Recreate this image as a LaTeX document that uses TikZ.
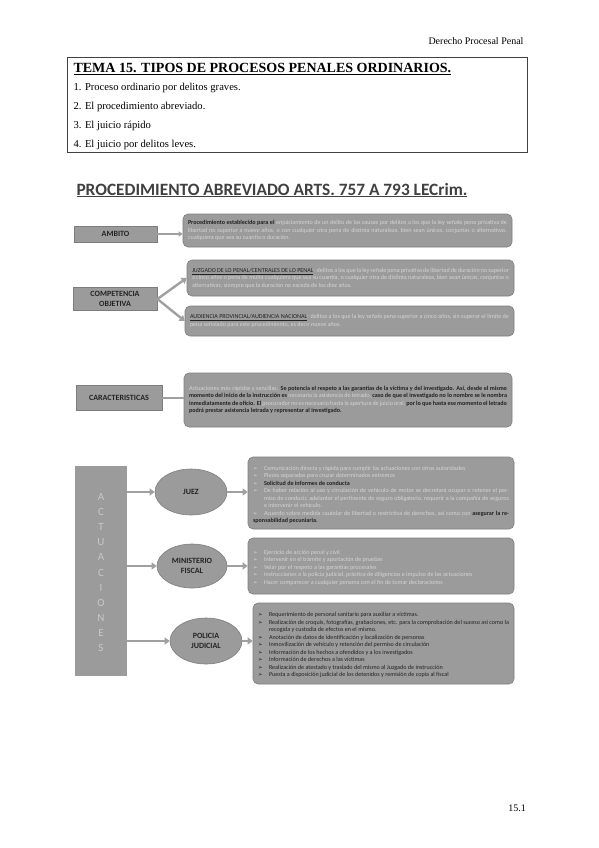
\documentclass[tikz,border=0pt]{standalone}
\usepackage{fontspec}
\setmainfont{Liberation Serif}
\newfontfamily\calib{Carlito}
\newfontfamily\dejavu{DejaVu Sans}
\usetikzlibrary{positioning,shapes.geometric,arrows.meta}

\definecolor{boxgray}{RGB}{155,155,155}
\definecolor{edgegray}{RGB}{125,125,125}
\definecolor{arrowgray}{RGB}{160,160,160}
\definecolor{lighttxt}{RGB}{212,212,212}
\definecolor{darktxt}{RGB}{35,35,35}
\definecolor{lettergray}{RGB}{200,200,200}
\definecolor{titlegray}{RGB}{64,64,64}

\newcommand{\labelfont}{\calib\bfseries\fontsize{8}{9.4}\selectfont}
\newcommand{\boxfont}{\calib\fontsize{6.1}{7.5}\selectfont}
\newcommand{\bul}{{\dejavu\fontsize{5.5}{6}\selectfont ➢}}
\newcommand{\itm}[1]{\par\noindent\hangindent=11pt\hangafter=1\makebox[11pt][l]{\bul}#1}
\newcommand{\dk}[1]{\textcolor{darktxt}{\bfseries #1}}

\begin{document}
\begin{tikzpicture}[x=1pt,y=-1pt,
  labelbox/.style={draw=edgegray, fill=boxgray, line width=0.8pt, font=\labelfont, text=darktxt, align=center, inner sep=1pt},
  infobox/.style={draw=edgegray, fill=boxgray, line width=0.6pt, rounded corners=5pt, font=\boxfont, text=lighttxt, align=justify, inner xsep=5pt, inner ysep=2pt},
  ovalbox/.style={ellipse, draw=edgegray, fill=boxgray, line width=0.6pt, font=\labelfont, text=darktxt, align=center, inner sep=0pt},
  conn/.style={draw=arrowgray, line width=2.4pt, -{Triangle[length=5pt,width=7pt]}},
  thinconn/.style={draw=arrowgray, line width=1.2pt, -{Triangle[length=4pt,width=5pt]}}
]
\useasboundingbox (0,0) rectangle (599,848);

%draw page header
\node[anchor=east, font=\fontsize{10}{11}\selectfont] (hdr) at (527,41) {Derecho Procesal Penal};
\node[draw=titlegray, line width=0.9pt, minimum width=460, minimum height=95, anchor=north west] (tema) at (67,57) {};
\node[anchor=west, font=\bfseries\fontsize{14}{15}\selectfont] (temat) at (70,69) {\underline{TEMA 15. TIPOS DE PROCESOS PENALES ORDINARIOS.}};
\node[anchor=west, font=\fontsize{10.6}{12}\selectfont] (t1) at (70,88) {1. Proceso ordinario por delitos graves.};
\node[anchor=west, font=\fontsize{10.6}{12}\selectfont] (t2) at (70,107) {2. El procedimiento abreviado.};
\node[anchor=west, font=\fontsize{10.6}{12}\selectfont] (t3) at (70,126) {3. El juicio rápido};
\node[anchor=west, font=\fontsize{10.6}{12}\selectfont] (t4) at (70,145) {4. El juicio por delitos leves.};

%draw main title
\node[anchor=west, font=\calib\bfseries\fontsize{17.3}{20}\selectfont, text=titlegray] (main) at (73,190) {\underline{PROCEDIMIENTO ABREVIADO ARTS. 757 A 793 LECrim.}};

%draw ambito
\node[labelbox, minimum width=83, minimum height=16] (ambito) at (115.5,234) {AMBITO};
\node[infobox, text width=319pt, minimum height=33] (ambitotxt) at (347.5,230.5) {\dk{Procedimiento establecido para el} enjuiciamiento de un delito de las causas por delitos a los que la ley señale pena privativa de libertad no superior a nueve años, o con cualquier otra pena de distinta naturaleza, bien sean únicas, conjuntas o alternativas, cualquiera que sea su cuantía o duración.};
\draw[thinconn] (ambito.east) -- (ambitotxt.west |- ambito.east);

%draw competencia objetiva
\node[labelbox, minimum width=84, minimum height=23] (comp) at (115,299) {COMPETENCIA\\OBJETIVA};
\node[infobox, text width=317pt, minimum height=36] (comppenal) at (350.5,278) {\textcolor{darktxt}{\underline{JUZGADO DE LO PENAL/CENTRALES DE LO PENAL}}: delitos a los que la ley señale pena privativa de libertad de duración no superior a cinco años o pena de multa cualquiera que sea su cuantía, o cualquier otra de distinta naturaleza, bien sean únicas, conjuntas o alternativas, siempre que la duración no exceda de los diez años.};
\node[infobox, text width=319pt, minimum height=30] (compaud) at (349.5,321) {\textcolor{darktxt}{\underline{AUDIENCIA PROVINCIAL/AUDIENCIA NACIONAL}}: delitos a los que la ley señale pena superior a cinco años, sin superar el límite de pena señalado para este procedimiento, es decir nueve años.};
\draw[conn] (comp.east) -- (comppenal.west);
\draw[conn] (comp.east) -- (compaud.west);

%draw caracteristicas
\node[labelbox, minimum width=86, minimum height=25] (carac) at (119,398) {CARACTERISTICAS};
\node[infobox, text width=318pt, minimum height=54] (caractxt) at (348,400) {Actuaciones más rápidas y sencillas. \dk{Se potencia el respeto a las garantías de la víctima y del investigado. Así, desde el mismo momento del inicio de la instrucción es} necesaria la asistencia de letrado, \dk{caso de que el investigado no lo nombre se le nombra inmediatamente de oficio. El} procurador no es necesario hasta la apertura de juicio oral, \dk{por lo que hasta ese momento el letrado podrá prestar asistencia letrada y representar al investigado.}};
\draw[draw=arrowgray, line width=2.4pt] (carac.east) -- (caractxt.west |- carac.east);

%draw actuaciones
\node[fill=boxgray, minimum width=52, minimum height=210, inner sep=0pt] (act) at (101,571) {};
\foreach \l [count=\i] in {A,C,T,U,A,C,I,O,N,E,S}{
   \node[font=\calib\fontsize{11}{12}\selectfont, text=lettergray] (act\i) at (101,{497+15.1*(\i-1)}) {\l};
}

\node[ovalbox, minimum width=72, minimum height=46] (juez) at (191,492) {JUEZ};
\node[ovalbox, minimum width=70, minimum height=44] (fiscal) at (192,566) {MINISTERIO\\FISCAL};
\node[ovalbox, minimum width=72, minimum height=46] (policia) at (206,641) {POLICIA\\JUDICIAL};

\node[infobox, text width=256pt, minimum height=72] (jueztxt) at (381,493) {%
\itm{Comunicación directa y rápida para cumplir las actuaciones con otras autoridades}
\itm{Piezas separadas para cruzar determinados extremos}
\itm{\dk{Solicitud de informes de conducta}}
\itm{De haber relación al uso y circulación de vehículo de motor se decretará ocupar o retener el permiso de conducir, adelantar el pertinente de seguro obligatorio, requerir a la compañía de seguros e intervenir el vehículo.}
\itm{Acuerdo sobre medida cautelar de libertad o restrictiva de derechos, así como con \dk{asegurar la responsabilidad pecuniaria.}}};
\node[infobox, text width=256pt, minimum height=56] (fiscaltxt) at (381,566) {%
\itm{Ejercicio de acción penal y civil}
\itm{Intervenir en el trámite y aportación de pruebas}
\itm{Velar por el respeto a las garantías procesales}
\itm{Instrucciones a la policía judicial, práctica de diligencias e impulso de las actuaciones}
\itm{Hacer comparecer a cualquier persona con el fin de tomar declaraciones}};
\node[infobox, text=darktxt, text width=251pt, minimum height=81] (policiatxt) at (383.5,643.5) {%
\itm{Requerimiento de personal sanitario para auxiliar a víctimas.}
\itm{Realización de croquis, fotografías, grabaciones, etc. para la comprobación del suceso así como la recogida y custodia de efectos en el mismo.}
\itm{Anotación de datos de identificación y localización de personas}
\itm{Inmovilización de vehículo y retención del permiso de circulación}
\itm{Información de los hechos a ofendidos y a los investigados}
\itm{Información de derechos a las víctimas}
\itm{Realización de atestado y traslado del mismo al Juzgado de instrucción}
\itm{Puesta a disposición judicial de los detenidos y remisión de copia al fiscal}};

%draw arrows
\draw[conn] (act.east |- juez.west) -- (juez.west);
\draw[conn] (act.east |- fiscal.west) -- (fiscal.west);
\draw[conn] (act.east |- policia.west) -- (policia.west);
\draw[conn] (juez.east) -- (jueztxt.west |- juez.east);
\draw[conn] (fiscal.east) -- (fiscaltxt.west |- fiscal.east);
\draw[conn] (policia.east) -- (policiatxt.west |- policia.east);

%draw page number
\node[font=\fontsize{10}{11}\selectfont] (pnum) at (517,808) {15.1};
\end{tikzpicture}
\end{document}
